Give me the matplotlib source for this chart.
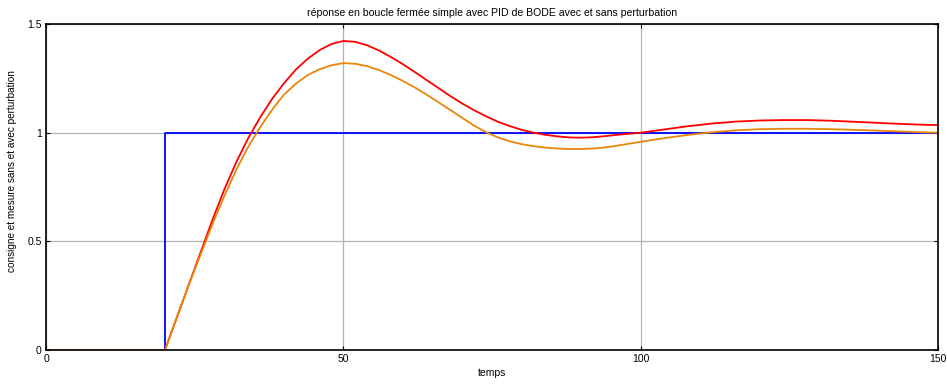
import matplotlib.pyplot as plt

# consigne (step)
t_cons = [0, 20, 20, 150]
y_cons = [0, 0, 1, 1]

t = [0, 20, 22, 24, 26, 28, 30, 32, 34, 36, 38, 40, 42, 44, 46, 48, 50, 52, 54, 56,
     58, 60, 62, 64, 66, 68, 70, 72, 74, 76, 78, 80, 82, 84, 86, 88, 90, 92, 94, 96,
     98, 100, 104, 108, 112, 116, 120, 124, 128, 132, 136, 140, 144, 148, 150]
y_sans = [0, 0, 0.15, 0.30, 0.45, 0.60, 0.74, 0.865, 0.975, 1.07, 1.155, 1.227, 1.29,
          1.34, 1.38, 1.408, 1.422, 1.418, 1.402, 1.378, 1.348, 1.315, 1.279, 1.242,
          1.205, 1.168, 1.134, 1.103, 1.075, 1.05, 1.03, 1.013, 1.0, 0.99, 0.983,
          0.978, 0.977, 0.979, 0.984, 0.99, 0.995, 1.0, 1.015, 1.03, 1.042, 1.051,
          1.056, 1.058, 1.058, 1.055, 1.05, 1.045, 1.04, 1.036, 1.035]
y_avec = [0, 0, 0.15, 0.30, 0.44, 0.58, 0.71, 0.83, 0.935, 1.025, 1.105, 1.175, 1.225,
          1.265, 1.292, 1.31, 1.32, 1.317, 1.306, 1.288, 1.265, 1.238, 1.208, 1.175,
          1.14, 1.104, 1.068, 1.032, 1.002, 0.978, 0.96, 0.947, 0.938, 0.931, 0.927,
          0.925, 0.925, 0.927, 0.932, 0.94, 0.949, 0.958, 0.975, 0.99, 1.002, 1.011,
          1.016, 1.018, 1.018, 1.016, 1.013, 1.009, 1.005, 1.001, 1.0]

plt.rcParams['font.family'] = ['Liberation Sans', 'DejaVu Sans']

fig = plt.figure(figsize=(9.47, 3.84), dpi=100)
ax = fig.add_axes([0.0486, 0.0885, 0.942, 0.849])

ax.plot(t_cons, y_cons, color='#0000ff', lw=1.3)
ax.plot(t, y_sans, color='#ff0000', lw=1.3)
ax.plot(t, y_avec, color='#e8860a', lw=1.3)

ax.set_xlim(0, 150)
ax.set_ylim(0, 1.5)
ax.set_xticks([0, 50, 100, 150])
ax.set_yticks([0, 0.5, 1, 1.5])
ax.set_yticklabels(['0', '0.5', '1', '1.5'])
ax.grid(True, color='#b4b4b4', lw=0.9)
ax.set_axisbelow(True)
ax.tick_params(direction='in', top=True, right=True, length=3, labelsize=7.5, pad=3)
for s in ax.spines.values():
    s.set_linewidth(1.2)

ax.set_title("réponse en boucle fermée simple avec PID de BODE avec et sans perturbation",
             fontsize=7.6, pad=6)
ax.set_xlabel("temps", fontsize=7.5, labelpad=3)
ax.set_ylabel("consigne et mesure sans et avec perturbation", fontsize=7.2)
ax.yaxis.set_label_coords(-0.033, 0.55)

fig.savefig("out.png", dpi=100)
